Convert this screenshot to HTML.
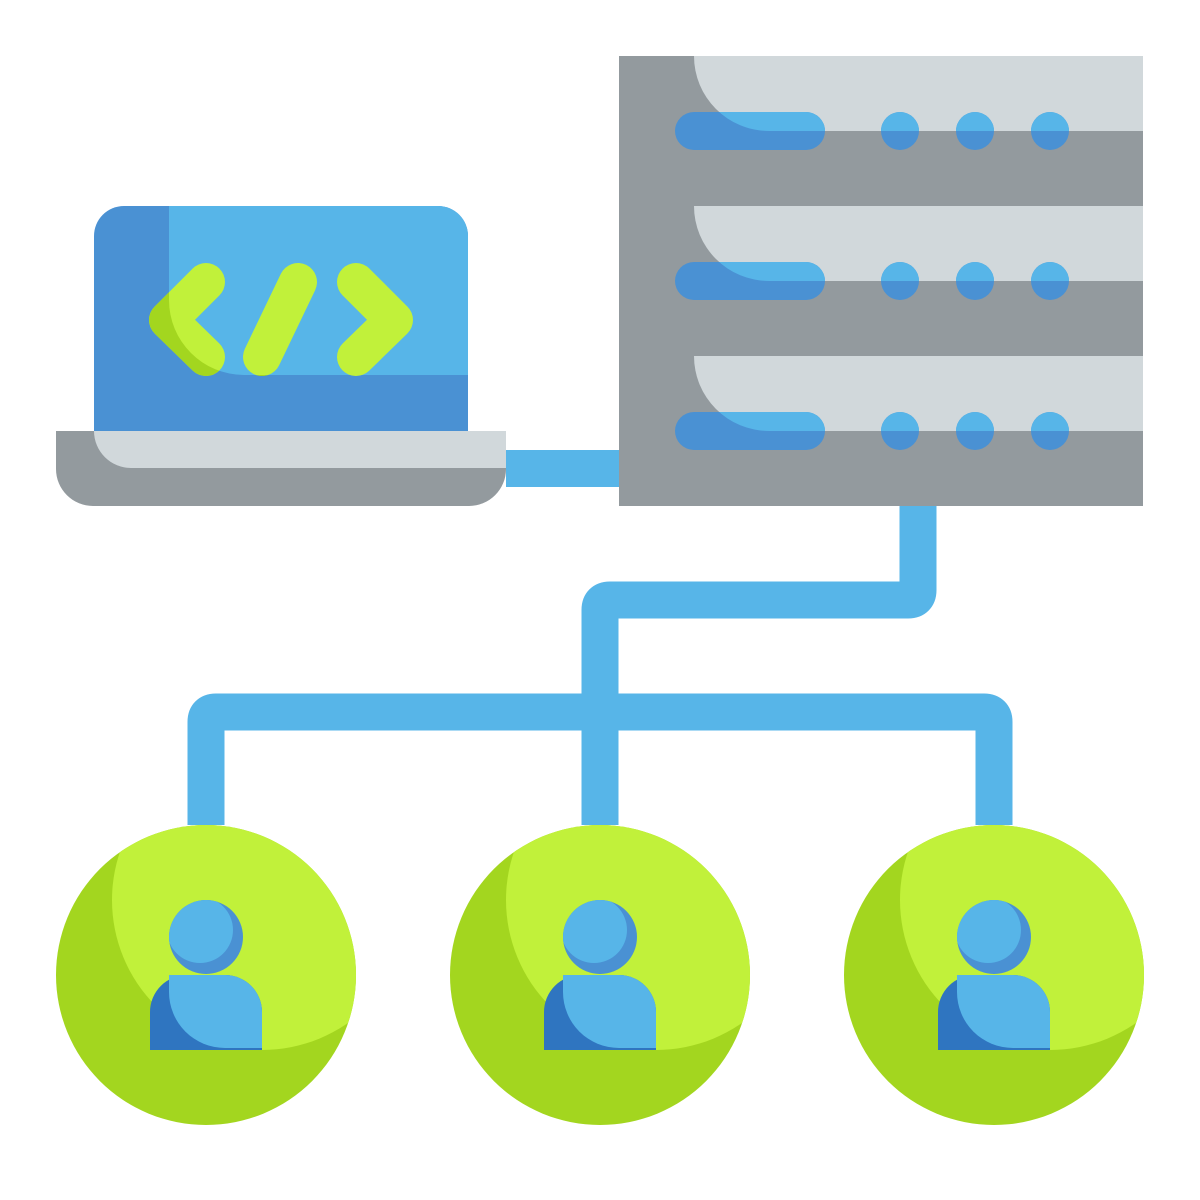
<!DOCTYPE html>
<html><head><meta charset="utf-8"><style>html,body{margin:0;padding:0;background:#fff}svg{display:block}</style></head>
<body>
<svg width="1200" height="1200" viewBox="0 0 1200 1200" xmlns="http://www.w3.org/2000/svg">
<defs>
  <g id="row">
    <rect x="619" y="0" width="524" height="150" fill="#939a9e"/>
    <path d="M694 0 H1143 V75 H769 A75 75 0 0 1 694 0 Z" fill="#d1d8db"/>
    <rect x="675" y="56" width="150" height="38" rx="19" fill="#4a91d3"/>
    <circle cx="900" cy="75" r="19" fill="#4a91d3"/>
    <circle cx="975" cy="75" r="19" fill="#4a91d3"/>
    <circle cx="1050" cy="75" r="19" fill="#4a91d3"/>
    <clipPath id="lc"><path d="M694 0 H1143 V75 H769 A75 75 0 0 1 694 0 Z"/></clipPath>
    <g clip-path="url(#lc)" fill="#57b5e8">
      <rect x="675" y="56" width="150" height="38" rx="19"/>
      <circle cx="900" cy="75" r="19"/>
      <circle cx="975" cy="75" r="19"/>
      <circle cx="1050" cy="75" r="19"/>
    </g>
  </g>
  <g id="user">
    <circle cx="0" cy="0" r="150" fill="#a3d61f"/>
    <clipPath id="uc"><circle cx="0" cy="0" r="150"/></clipPath>
    <circle cx="56" cy="-75" r="150" fill="#c1f13a" clip-path="url(#uc)"/>
    <circle cx="0" cy="-38" r="37" fill="#4a91d3"/>
    <clipPath id="hc"><circle cx="0" cy="-38" r="37"/></clipPath>
    <circle cx="-6" cy="-45" r="33" fill="#57b5e8" clip-path="url(#hc)"/>
    <path d="M-56 75 V37 A37 37 0 0 1 -19 0 H19 A37 37 0 0 1 56 37 V75 Z" fill="#2f75c0"/>
    <path d="M-37 0 H19 A37 37 0 0 1 56 37 V73 H19 A56 56 0 0 1 -37 17 Z" fill="#57b5e8"/>
  </g>
</defs>

<!-- connectors -->
<g fill="none" stroke="#57b5e8" stroke-width="37" stroke-linejoin="round">
  <path d="M918 506 V590 Q918 600 908 600 H610 Q600 600 600 610 V825"/>
  <path d="M206 825 V722 Q206 712 216 712 H984 Q994 712 994 722 V825"/>
</g>
<rect x="506" y="450" width="113" height="37" fill="#57b5e8"/>

<!-- server -->
<use href="#row" transform="translate(0,56)"/>
<use href="#row" transform="translate(0,206)"/>
<use href="#row" transform="translate(0,356)"/>

<!-- laptop -->
<path d="M94 431 V236 A30 30 0 0 1 124 206 H438 A30 30 0 0 1 468 236 V431 Z" fill="#4a91d3"/>
<path d="M169 206 H438 A30 30 0 0 1 468 236 V375 H244 A75 75 0 0 1 169 300 Z" fill="#57b5e8"/>
<g fill="none" stroke="#c1f13a" stroke-width="38" stroke-linecap="round" stroke-linejoin="round">
  <path d="M206 282 L168 320 L206 357"/>
  <path d="M298 282 L262 357"/>
  <path d="M356 282 L394 320 L356 357"/>
</g>
<clipPath id="dc"><path d="M94 206 H169 V300 A75 75 0 0 0 244 375 H468 V431 H94 Z"/></clipPath>
<g clip-path="url(#dc)" fill="none" stroke="#a3d61f" stroke-width="38" stroke-linecap="round" stroke-linejoin="round">
  <path d="M206 282 L168 320 L206 357"/>
  <path d="M298 282 L262 357"/>
</g>
<path d="M56 431 H506 V469 A37 37 0 0 1 469 506 H93 A37 37 0 0 1 56 469 Z" fill="#939a9e"/>
<path d="M94 431 H506 V468 H131 A37 37 0 0 1 94 431 Z" fill="#d1d8db"/>

<!-- users -->
<use href="#user" transform="translate(206,975)"/>
<use href="#user" transform="translate(600,975)"/>
<use href="#user" transform="translate(994,975)"/>
</svg>
</body></html>
